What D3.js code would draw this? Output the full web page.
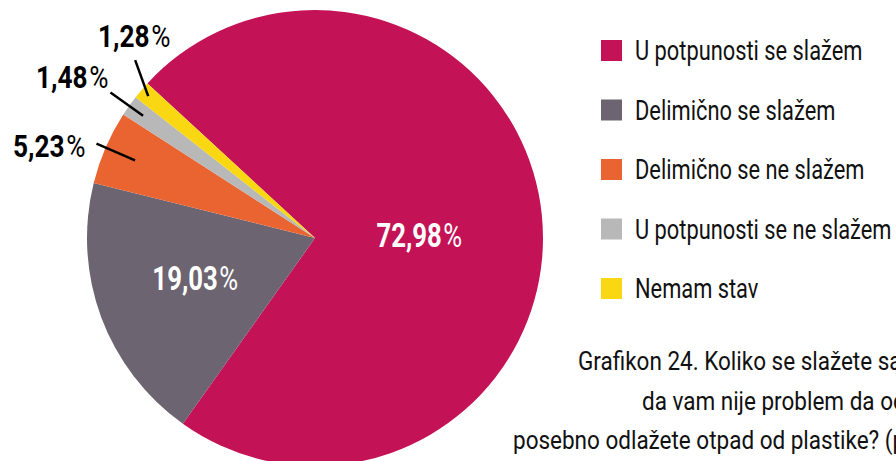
<!DOCTYPE html>
<html>
<head>
<meta charset="utf-8">
<script src="https://cdn.jsdelivr.net/npm/d3@7"></script>
<style>
  html, body { margin: 0; padding: 0; background: #fff; }
  svg { display: block; font-family: Roboto, "Noto Sans", sans-serif; }
</style>
</head>
<body>
<svg id="chart" width="896" height="461"></svg>
<script>
// data
var categories = ["U potpunosti se slažem", "Delimično se slažem", "Delimično se ne slažem", "U potpunosti se ne slažem", "Nemam stav"];
var values = [72.98, 19.03, 5.23, 1.48, 1.28];
var valueLabels = ["72,98", "19,03", "5,23", "1,48", "1,28"];
var colors = ["#c41256", "#6c6470", "#ea6432", "#b8b8b8", "#f9d713"];
var titleLines = ["Grafikon 24. Koliko se slažete sa", "da vam nije problem da od", "posebno odlažete otpad od plastike? (p"];

var svg = d3.select('#chart');
var SX = 0.78;   // squeeze text horizontally, the original uses a condensed face
var SXT = 0.9;   // caption is a bit wider
var cx = 315, cy = 238, R = 228;
var start = -47.3 * Math.PI / 180;

var pie = d3.pie().sort(null).startAngle(start).endAngle(start + 2 * Math.PI);
var arcs = pie(values);
var arc = d3.arc().innerRadius(0).outerRadius(R);

var g = svg.append('g').attr('transform', 'translate(' + cx + ',' + cy + ')');

g.selectAll('.slice')
    .data(arcs)
    .enter().append('path')
    .attr('class', 'slice')
    .attr('d', arc)
    .attr('fill', function(d, i) { return colors[i]; });

var polar = function(a, r) { return [Math.sin(a) * r, -Math.cos(a) * r]; };
var mid = function(d) { return (d.startAngle + d.endAngle) / 2; };

var pctText = function(sel, i, fill) {
    sel.append('tspan').attr('font-weight', 700).text(valueLabels[i]);
    sel.append('tspan').attr('font-weight', 400).attr('dx', 2).text('%');
    sel.attr('fill', fill);
};

// labels inside the two big slices
var innerFrac = [0.46, 0.56];
var innerDy = [20, 8];
[0, 1].forEach(function(i) {
    var p = polar(mid(arcs[i]), R * innerFrac[i]);
    var t = g.append('text')
        .attr('transform', 'translate(' + p[0] + ',' + (p[1] + innerDy[i]) + ') scale(' + SX + ',1)')
        .attr('text-anchor', 'middle')
        .attr('font-size', 33);
    pctText(t, i, '#fff');
});

// labels with leader lines for the thin slices
var lead = {
    2: { rIn: 196, rOut: 238, da: 0, dx: -11, dy: 13, anchor: 'end' },
    3: { rIn: 211, rOut: 251, da: 0, dx: -2, dy: -5, anchor: 'end' },
    4: { rIn: 219, rOut: 253, da: 4.3, dx: -1, dy: -13, anchor: 'middle' }
};
[2, 3, 4].forEach(function(i) {
    var L = lead[i];
    var a = mid(arcs[i]);
    var p1 = polar(a, L.rIn);
    var p2 = polar(a + L.da * Math.PI / 180, L.rOut);
    g.append('line')
        .attr('x1', p1[0]).attr('y1', p1[1])
        .attr('x2', p2[0]).attr('y2', p2[1])
        .attr('stroke', '#000').attr('stroke-width', 2.5);
    var t = g.append('text')
        .attr('transform', 'translate(' + (p2[0] + L.dx) + ',' + (p2[1] + L.dy) + ') scale(0.82,1)')
        .attr('text-anchor', L.anchor)
        .attr('font-size', 32);
    pctText(t, i, '#000');
});

// legend
var legend = svg.append('g').attr('transform', 'translate(601,40)');
var row = legend.selectAll('.row')
    .data(categories)
    .enter().append('g')
    .attr('class', 'row')
    .attr('transform', function(d, i) { return 'translate(0,' + (i * 59.5) + ')'; });
row.append('rect')
    .attr('width', 21).attr('height', 21)
    .attr('fill', function(d, i) { return colors[i]; });
row.append('text')
    .attr('transform', 'translate(34,20) scale(' + SX + ',1)')
    .attr('font-size', 28)
    .attr('fill', '#111')
    .text(function(d) { return d; });

// caption, runs past the right edge like the original
var titleX = [578, 642, 513];
svg.selectAll('.title')
    .data(titleLines)
    .enter().append('text')
    .attr('class', 'title')
    .attr('transform', function(d, i) { return 'translate(' + titleX[i] + ',' + (370 + i * 39.5) + ') scale(' + SXT + ',1)'; })
    .attr('font-size', 25)
    .attr('font-weight', 400)
    .attr('fill', '#111')
    .text(function(d) { return d; });
</script>
</body>
</html>
